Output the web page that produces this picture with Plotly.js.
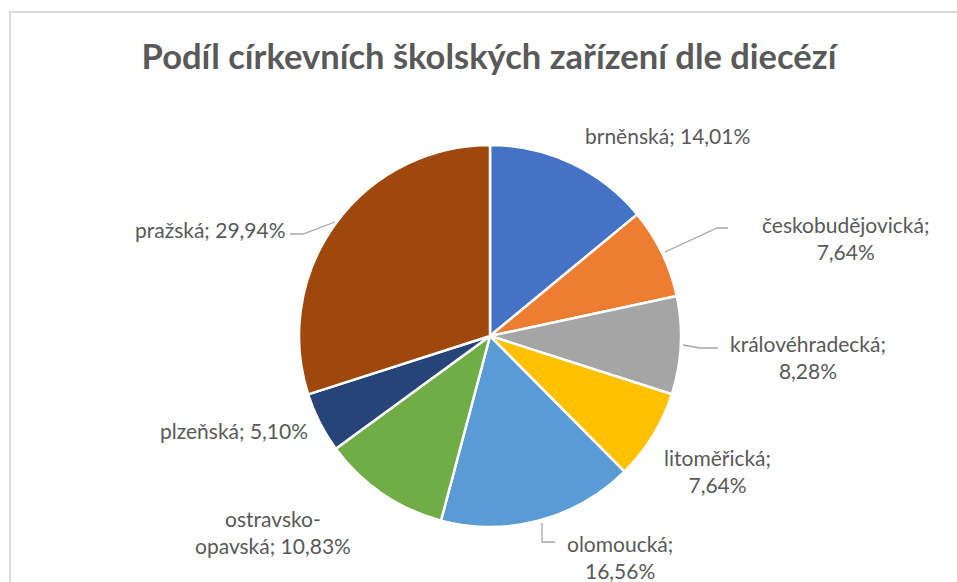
<!DOCTYPE html>
<html>
<head>
<meta charset="utf-8">
<script src="https://cdn.plot.ly/plotly-3.0.1.min.js"></script>
<style>html,body{margin:0;padding:0;background:#fff;}#chart{width:957px;height:582px;}</style>
</head>
<body>
<div id="chart"></div>
<script>
// ---- data ----
const dioceses = ["brněnská", "českobudějovická", "královéhradecká", "litoměřická", "olomoucká", "ostravsko-opavská", "plzeňská", "pražská"];
const shares = [14.01, 7.64, 8.28, 7.64, 16.56, 10.83, 5.10, 29.94];
const sliceColors = ["#4472C4", "#ED7D31", "#A5A5A5", "#FFC000", "#5B9BD5", "#70AD47", "#264478", "#9E480E"];
const chartTitle = "Podíl církevních školských zařízení dle diecézí";

// ---- layout helpers (pixel -> paper) ----
const W = 957, H = 582;
const px = x => x / W;
const py = y => 1 - y / H;

// label placement (pixels) and how the text wraps
const labelPlacement = [
  {x: 667, y: 135, wrap: "none"},
  {x: 845, y: 238, wrap: "semicolon"},
  {x: 808, y: 357, wrap: "semicolon"},
  {x: 717, y: 471, wrap: "semicolon"},
  {x: 620, y: 557, wrap: "semicolon"},
  {x: 273, y: 532, wrap: "hyphen"},
  {x: 234, y: 430, wrap: "none"},
  {x: 210, y: 230, wrap: "none"}
];
// leader lines (pixels), null = none
const leaders = [
  null,
  [[665, 252], [717, 228], [728, 228]],
  [[683, 345], [700, 348], [718, 348]],
  null,
  [[542, 523], [542, 542], [555, 542]],
  null,
  null,
  [[335, 222], [303, 234], [290, 234]]
];

const fmt = v => v.toFixed(2).replace(".", ",") + "%";
function labelText(i) {
  const name = dioceses[i], pct = fmt(shares[i]);
  const w = labelPlacement[i].wrap;
  if (w === "semicolon") return name + ";<br>" + pct;
  if (w === "hyphen") return name.replace("-", "-<br>") + "; " + pct;
  return name + "; " + pct;
}

const cx = 490, cy = 336, r = 191;
const trace = {
  type: "pie",
  labels: dioceses,
  values: shares,
  sort: false,
  direction: "clockwise",
  rotation: 0,
  textinfo: "none",
  hoverinfo: "label+percent",
  marker: {colors: sliceColors, line: {color: "#FFFFFF", width: 2.5}},
  domain: {x: [px(cx - r), px(cx + r)], y: [py(cy + r), py(cy - r)]},
  showlegend: false
};

const annotations = dioceses.map((d, i) => ({
  xref: "paper", yref: "paper",
  x: px(labelPlacement[i].x), y: py(labelPlacement[i].y),
  xanchor: "center", yanchor: "middle", align: "center",
  text: labelText(i), showarrow: false,
  font: {family: "Lato, 'Open Sans', sans-serif", size: 21, color: "#595959"}
}));

const shapes = [
  {type: "rect", xref: "paper", yref: "paper", x0: px(10), x1: px(990), y0: py(620), y1: py(12),
   line: {color: "#D9D9D9", width: 2}, fillcolor: "rgba(0,0,0,0)", layer: "below"}
];
leaders.forEach(pts => {
  if (!pts) return;
  const path = pts.map((p, k) => (k ? "L" : "M") + px(p[0]) + "," + py(p[1])).join(" ");
  shapes.push({type: "path", xref: "paper", yref: "paper", path: path, line: {color: "#A6A6A6", width: 1.3}});
});

const layout = {
  width: W, height: H,
  margin: {l: 0, r: 0, t: 0, b: 0},
  paper_bgcolor: "#FFFFFF",
  title: {text: "<b>" + chartTitle + "</b>", x: 0.511, xanchor: "center", y: py(57), yanchor: "middle",
          font: {family: "Lato, 'Open Sans', sans-serif", size: 34.5, color: "#595959"}},
  annotations: annotations,
  shapes: shapes
};

Plotly.newPlot("chart", [trace], layout, {displayModeBar: false, staticPlot: true});
</script>
</body>
</html>
